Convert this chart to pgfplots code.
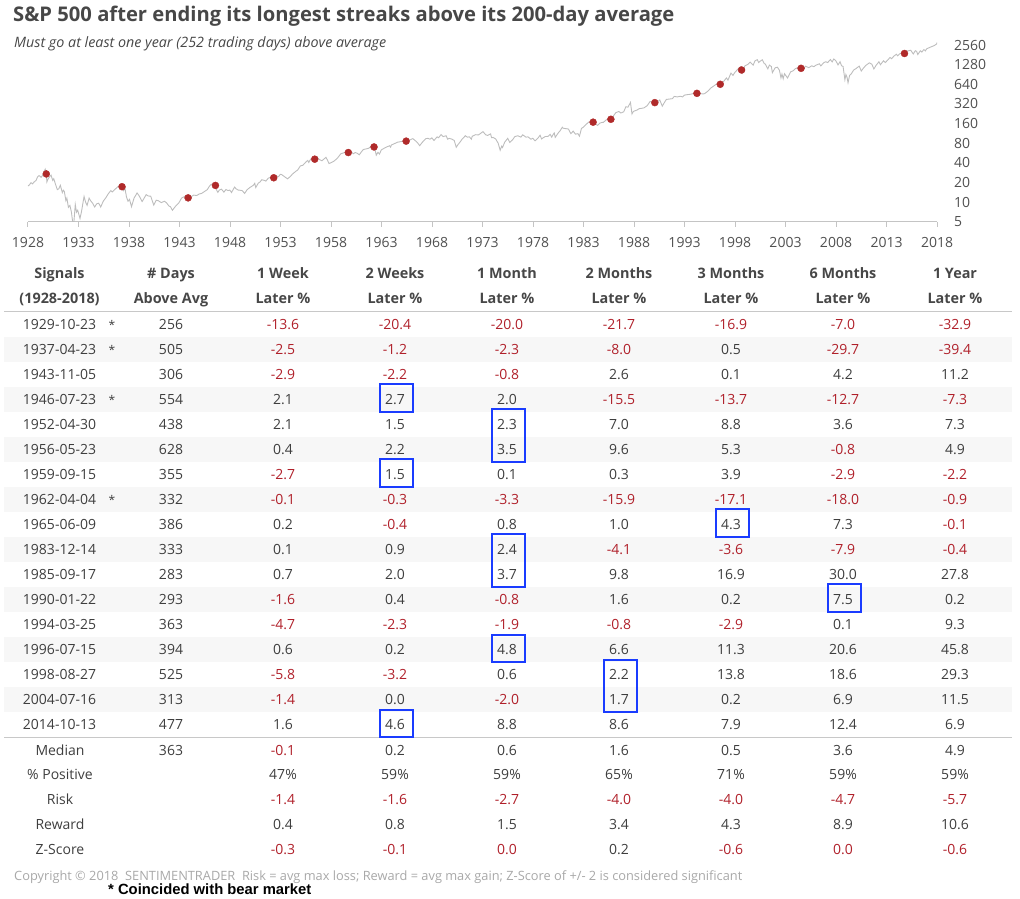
\documentclass[border=0pt]{standalone}
\usepackage{pgfplots}
\pgfplotsset{compat=1.18}
\usepackage{fontspec}
\setmainfont{Open Sans}
\newfontfamily\arialfont{Liberation Sans}
\definecolor{txt}{HTML}{3E3E3E}
\definecolor{hdr}{HTML}{474747}
\definecolor{neg}{HTML}{B0202A}
\definecolor{bluebox}{HTML}{1A3CFF}
\definecolor{band}{HTML}{F7F7F7}
\definecolor{rulec}{HTML}{C8C8C8}
\definecolor{linec}{HTML}{BDBDBD}
\definecolor{dotc}{HTML}{B02A2A}
\definecolor{copyc}{HTML}{A8A8A8}
\definecolor{lbl}{HTML}{505050}
\definecolor{axc}{HTML}{C4C4C4}
\def\cellvalaux#1#2\relax{\ifx-#1\textcolor{neg}{#1#2}\else\ifx z#1\textcolor{neg}{#2}\else#1#2\fi\fi}
\def\cellval#1{\expandafter\cellvalaux#1\relax}
\newcommand\bbox[3]{\draw[bluebox, line width=2pt] ({#1+1-16.5},{-(311.5+25.04*#2-2.5)}) rectangle ({#1+1+16.5},{-(311.5+25.04*(#3+1))});}
\begin{document}
\begin{tikzpicture}
\path[use as bounding box] (0,0) rectangle (1020pt,-898pt);
\begin{axis}[
  at={(28pt,-221.7pt)}, anchor=south west,
  scale only axis, width=909pt, height=183pt,
  xmin=1928, xmax=2018, ymode=log, ymin=5, ymax=3200,
  axis x line=bottom, axis y line=right,
  axis line style={-},
  x axis line style={draw=axc, line width=1.2pt},
  y axis line style={draw=none},
  xtick={1928,1933,...,2018},
  xticklabels={1928,1933,1938,1943,1948,1953,1958,1963,1968,1973,1978,1983,1988,1993,1998,2003,2008,2013,2018},
  ytick={5,10,20,40,80,160,320,640,1280,2560},
  yticklabels={5,10,20,40,80,160,320,640,1280,2560},
  x tick style={draw=axc, line width=1pt},
  y tick style={draw=none},
  minor tick num=0,
  major tick length=5pt, tick align=outside,
  tick label style={font=\fontsize{14}{16}\selectfont, text=lbl},
  yticklabel style={anchor=west, inner sep=0pt, xshift=12pt},
  xticklabel style={yshift=-7pt},
]
\addplot[color=linec, line width=0.9pt] table {
1928.00 17.6
1928.15 18.5
1928.30 19.8
1928.45 19.0
1928.60 20.3
1928.80 21.5
1928.95 24.4
1929.10 25.5
1929.30 24.0
1929.45 25.8
1929.60 29.5
1929.70 31.9
1929.76 29.5
1929.81 27.0
1929.87 20.4
1929.95 22.0
1930.10 24.0
1930.28 25.9
1930.45 21.5
1930.55 22.8
1930.75 18.2
1930.90 15.5
1931.05 16.0
1931.20 18.1
1931.40 14.0
1931.50 15.2
1931.60 14.5
1931.75 10.5
1931.85 11.5
1932.00 8.3
1932.15 8.9
1932.30 7.0
1932.45 4.6
1932.52 4.4
1932.68 9.2
1932.80 7.0
1932.92 7.5
1933.15 5.6
1933.30 7.2
1933.55 12.2
1933.70 10.0
1933.85 8.9
1934.05 11.5
1934.20 10.5
1934.40 9.6
1934.60 8.4
1934.80 9.4
1935.00 9.6
1935.20 8.4
1935.45 10.3
1935.70 11.6
1935.95 13.4
1936.20 15.0
1936.35 14.3
1936.60 15.6
1936.85 17.0
1937.05 17.8
1937.18 18.7
1937.31 17.2
1937.45 15.0
1937.60 16.3
1937.75 12.0
1937.90 10.3
1938.05 11.0
1938.25 8.5
1938.50 11.5
1938.80 13.8
1939.00 12.5
1939.30 10.2
1939.50 11.5
1939.70 13.0
1939.90 12.4
1940.15 12.3
1940.45 9.0
1940.70 10.7
1940.90 10.5
1941.20 9.8
1941.50 10.3
1941.70 9.8
1941.95 8.7
1942.10 8.5
1942.30 7.5
1942.60 8.6
1942.95 9.8
1943.20 11.5
1943.55 12.3
1943.70 11.3
1943.85 11.6
1944.10 11.9
1944.40 12.8
1944.70 12.6
1944.95 13.3
1945.20 13.6
1945.50 14.6
1945.75 15.5
1945.95 17.4
1946.10 18.5
1946.35 19.2
1946.50 18.5
1946.56 18.0
1946.70 15.0
1946.80 14.1
1946.95 15.3
1947.15 15.8
1947.40 14.2
1947.60 15.6
1947.80 15.0
1947.98 15.3
1948.15 14.0
1948.45 17.0
1948.60 16.0
1948.80 15.3
1948.98 15.2
1949.20 15.0
1949.45 13.6
1949.70 15.5
1949.98 16.8
1950.30 18.0
1950.45 19.4
1950.55 16.7
1950.80 19.5
1950.98 20.4
1951.15 22.0
1951.40 21.5
1951.55 21.0
1951.80 23.3
1951.98 23.8
1952.15 24.0
1952.33 23.6
1952.60 25.0
1952.80 24.5
1952.98 26.6
1953.10 26.5
1953.40 24.5
1953.70 22.7
1953.98 24.8
1954.20 27.0
1954.50 29.5
1954.70 31.0
1954.98 36.0
1955.20 36.5
1955.50 41.0
1955.70 43.5
1955.80 40.5
1955.98 45.5
1956.20 48.0
1956.39 45.5
1956.60 49.5
1956.70 47.0
1956.85 45.0
1957.10 43.0
1957.50 48.5
1957.65 44.0
1957.80 39.0
1957.98 40.0
1958.30 42.5
1958.60 46.5
1958.98 55.2
1959.20 56.5
1959.40 58.0
1959.60 60.5
1959.71 57.5
1959.85 57.0
1959.98 59.9
1960.20 55.0
1960.40 57.5
1960.60 56.0
1960.80 53.0
1960.98 58.1
1961.20 64.0
1961.50 65.5
1961.75 67.0
1961.95 71.6
1962.10 70.0
1962.26 70.0
1962.40 60.0
1962.48 52.3
1962.65 58.0
1962.80 54.5
1962.98 63.1
1963.20 66.0
1963.50 70.0
1963.80 73.0
1963.90 69.6
1963.98 75.0
1964.30 79.0
1964.60 83.0
1964.98 84.8
1965.20 87.0
1965.35 89.5
1965.44 86.0
1965.48 82.0
1965.70 88.0
1965.98 92.4
1966.10 94.0
1966.40 86.0
1966.60 80.0
1966.78 73.2
1966.98 80.3
1967.20 88.0
1967.40 94.0
1967.60 95.0
1967.80 92.0
1967.98 96.5
1968.20 88.0
1968.50 100.0
1968.65 97.0
1968.90 108.4
1969.10 101.0
1969.40 104.0
1969.55 92.0
1969.70 95.0
1969.98 92.1
1970.20 88.0
1970.40 69.3
1970.60 77.0
1970.80 84.0
1970.98 92.2
1971.30 104.0
1971.50 99.0
1971.70 100.0
1971.90 92.0
1971.98 102.1
1972.30 108.0
1972.60 107.0
1972.98 118.1
1973.05 120.2
1973.30 108.0
1973.50 105.0
1973.80 111.0
1973.90 97.0
1974.05 98.0
1974.30 93.0
1974.55 80.0
1974.75 62.3
1974.90 72.0
1974.98 68.6
1975.20 83.0
1975.50 95.0
1975.70 82.0
1975.98 90.2
1976.20 101.0
1976.50 104.0
1976.80 99.0
1976.98 107.5
1977.30 99.0
1977.50 100.0
1977.80 92.0
1977.98 95.1
1978.20 86.9
1978.50 96.0
1978.70 106.0
1978.85 93.0
1978.98 96.1
1979.20 101.0
1979.50 102.0
1979.70 109.0
1979.85 99.0
1979.98 107.9
1980.10 115.0
1980.20 98.2
1980.50 115.0
1980.70 125.0
1980.90 140.5
1980.98 135.8
1981.20 134.0
1981.50 132.0
1981.75 112.0
1981.98 122.5
1982.20 110.0
1982.45 112.0
1982.60 102.4
1982.80 135.0
1982.98 140.6
1983.20 152.0
1983.50 168.0
1983.80 172.0
1983.95 168.0
1984.10 160.0
1984.40 150.0
1984.60 162.0
1984.80 166.0
1984.98 167.2
1985.20 180.0
1985.50 191.0
1985.71 186.0
1985.80 188.0
1985.98 211.3
1986.20 235.0
1986.50 245.0
1986.70 232.0
1986.98 242.2
1987.20 290.0
1987.40 285.0
1987.65 336.8
1987.80 224.8
1987.90 240.0
1987.98 247.1
1988.30 258.0
1988.50 270.0
1988.80 275.0
1988.98 277.7
1989.30 300.0
1989.60 350.0
1989.80 340.0
1989.98 353.4
1990.06 335.0
1990.30 340.0
1990.55 368.0
1990.80 295.5
1990.98 330.2
1991.20 375.0
1991.50 380.0
1991.80 385.0
1991.98 417.1
1992.30 410.0
1992.60 420.0
1992.80 410.0
1992.98 435.7
1993.30 445.0
1993.60 450.0
1993.98 466.5
1994.10 482.0
1994.23 465.0
1994.30 440.0
1994.60 460.0
1994.85 455.0
1994.98 459.3
1995.30 500.0
1995.60 560.0
1995.98 615.9
1996.20 650.0
1996.40 670.0
1996.54 640.0
1996.70 660.0
1996.98 740.7
1997.15 800.0
1997.30 740.0
1997.60 950.0
1997.80 876.0
1997.98 970.4
1998.30 1100.0
1998.55 1186.0
1998.65 1060.0
1998.75 957.0
1998.90 1150.0
1998.98 1229.2
1999.30 1300.0
1999.50 1400.0
1999.80 1260.0
1999.98 1469.3
2000.20 1527.0
2000.35 1380.0
2000.50 1450.0
2000.70 1520.0
2000.90 1320.0
2000.98 1320.3
2001.25 1103.0
2001.40 1260.0
2001.60 1200.0
2001.70 965.8
2001.98 1148.1
2002.20 1170.0
2002.40 1050.0
2002.55 800.0
2002.65 920.0
2002.77 776.8
2002.90 930.0
2003.20 800.0
2003.50 990.0
2003.75 1030.0
2003.98 1111.9
2004.20 1150.0
2004.40 1120.0
2004.54 1125.0
2004.62 1065.0
2004.80 1110.0
2004.98 1211.9
2005.30 1150.0
2005.60 1230.0
2005.80 1190.0
2005.98 1248.3
2006.35 1320.0
2006.50 1225.0
2006.80 1380.0
2006.98 1418.3
2007.17 1380.0
2007.45 1530.0
2007.62 1410.0
2007.78 1565.2
2007.98 1468.4
2008.20 1270.0
2008.40 1420.0
2008.55 1230.0
2008.70 1200.0
2008.88 752.0
2008.98 903.3
2009.10 810.0
2009.19 676.5
2009.35 880.0
2009.50 920.0
2009.75 1060.0
2009.98 1115.1
2010.30 1217.0
2010.50 1022.0
2010.75 1150.0
2010.98 1257.6
2011.30 1363.0
2011.55 1300.0
2011.75 1099.0
2011.98 1257.6
2012.25 1419.0
2012.40 1278.0
2012.70 1465.0
2012.88 1380.0
2012.98 1426.2
2013.35 1650.0
2013.50 1580.0
2013.75 1740.0
2013.98 1848.4
2014.10 1750.0
2014.30 1870.0
2014.60 1990.0
2014.78 1900.0
2014.98 2058.9
2015.40 2130.0
2015.65 1867.0
2015.85 2090.0
2015.98 2043.9
2016.10 1829.0
2016.35 2090.0
2016.50 2000.0
2016.70 2180.0
2016.85 2085.0
2016.98 2238.8
2017.30 2360.0
2017.50 2430.0
2017.75 2520.0
2017.98 2673.6
2018.00 2800.0
};
\addplot[only marks, mark=*, mark size=3.5pt, color=dotc] table {
1929.81 27.0
1937.31 17.2
1943.85 11.6
1946.56 18.0
1952.33 23.6
1956.39 45.5
1959.71 57.5
1962.26 70.0
1965.44 86.0
1983.95 168.0
1985.71 186.0
1990.06 335.0
1994.23 465.0
1996.54 640.0
1998.65 1060.0
2004.54 1125.0
2014.78 1900.0
};
\end{axis}
\begin{scope}[x=1pt, y=1pt, every node/.style={inner sep=0pt, text=txt, font=\fontsize{14}{16}\selectfont}]
\node[anchor=base west, text=hdr, font=\fontsize{20.2}{23}\selectfont\bfseries] at (13,-21) {S\&P 500 after ending its longest streaks above its 200-day average};
\node[anchor=base west, text=hdr, font=\fontsize{14.3}{17}\selectfont\itshape] at (14,-47) {Must go at least one year (252 trading days) above average};
% bands
\foreach \i in {1,3,5,7,9,11,13,15}{
  \fill[band] (4,{-(311.5+25.04*\i)}) rectangle (1012,{-(311.5+25.04*(\i+1))});
}
\draw[rulec, line width=1.3pt] (4,-311.5) -- (1012,-311.5);
\draw[rulec, line width=1.3pt] (4,-737.2) -- (1012,-737.2);
% header
\foreach \x/\a/\b in {59.5/Signals/(1928-2018), 171/\# Days/Above Avg, 283/1 Week/Later \%, 395/2 Weeks/Later \%, 507/1 Month/Later \%, 619/2 Months/Later \%, 731/3 Months/Later \%, 843/6 Months/Later \%, 955/1 Year/Later \%}{
  \node[anchor=base, text=hdr, font=\fontsize{14.4}{16}\selectfont\bfseries] at (\x,-278.3) {\a};
  \node[anchor=base, text=hdr, font=\fontsize{14.4}{16}\selectfont\bfseries] at (\x,-303.3) {\b};
}
% rows
\foreach \d/\s/\n/\va/\vb/\vc/\vd/\ve/\vf/\vg [count=\i from 0] in {
1929-10-23/*/256/-13.6/-20.4/-20.0/-21.7/-16.9/-7.0/-32.9,
1937-04-23/*/505/-2.5/-1.2/-2.3/-8.0/0.5/-29.7/-39.4,
1943-11-05//306/-2.9/-2.2/-0.8/2.6/0.1/4.2/11.2,
1946-07-23/*/554/2.1/2.7/2.0/-15.5/-13.7/-12.7/-7.3,
1952-04-30//438/2.1/1.5/2.3/7.0/8.8/3.6/7.3,
1956-05-23//628/0.4/2.2/3.5/9.6/5.3/-0.8/4.9,
1959-09-15//355/-2.7/1.5/0.1/0.3/3.9/-2.9/-2.2,
1962-04-04/*/332/-0.1/-0.3/-3.3/-15.9/-17.1/-18.0/-0.9,
1965-06-09//386/0.2/-0.4/0.8/1.0/4.3/7.3/-0.1,
1983-12-14//333/0.1/0.9/2.4/-4.1/-3.6/-7.9/-0.4,
1985-09-17//283/0.7/2.0/3.7/9.8/16.9/30.0/27.8,
1990-01-22//293/-1.6/0.4/-0.8/1.6/0.2/7.5/0.2,
1994-03-25//363/-4.7/-2.3/-1.9/-0.8/-2.9/0.1/9.3,
1996-07-15//394/0.6/0.2/4.8/6.6/11.3/20.6/45.8,
1998-08-27//525/-5.8/-3.2/0.6/2.2/13.8/18.6/29.3,
2004-07-16//313/-1.4/0.0/-2.0/1.7/0.2/6.9/11.5,
2014-10-13//477/1.6/4.6/8.8/8.6/7.9/12.4/6.9}{
  \pgfmathsetmacro\yb{-(324+25.04*\i+5)}
  \node[anchor=base] at (59.5,\yb) {\d};
  \node[anchor=base, font=\fontsize{12}{14}\selectfont] at (112,\yb) {\s};
  \node[anchor=base] at (171,\yb) {\n};
  \node[anchor=base] at (283,\yb) {\cellval\va};
  \node[anchor=base] at (395,\yb) {\cellval\vb};
  \node[anchor=base] at (507,\yb) {\cellval\vc};
  \node[anchor=base] at (619,\yb) {\cellval\vd};
  \node[anchor=base] at (731,\yb) {\cellval\ve};
  \node[anchor=base] at (843,\yb) {\cellval\vf};
  \node[anchor=base] at (955,\yb) {\cellval\vg};
}
% summary
\foreach \l/\n/\va/\vb/\vc/\vd/\ve/\vf/\vg [count=\k from 0] in {
Median/363/-0.1/0.2/0.6/1.6/0.5/3.6/4.9,
\% Positive//47\%/59\%/59\%/65\%/71\%/59\%/59\%,
Risk//-1.4/-1.6/-2.7/-4.0/-4.0/-4.7/-5.7,
Reward//0.4/0.8/1.5/3.4/4.3/8.9/10.6,
Z-Score//-0.3/-0.1/z0.0/0.2/-0.6/z0.0/-0.6}{
  \pgfmathsetmacro\yb{-(750+24.83*\k+5)}
  \node[anchor=base] at (60,\yb) {\l};
  \node[anchor=base] at (171,\yb) {\n};
  \node[anchor=base] at (283,\yb) {\cellval\va};
  \node[anchor=base] at (395,\yb) {\cellval\vb};
  \node[anchor=base] at (507,\yb) {\cellval\vc};
  \node[anchor=base] at (619,\yb) {\cellval\vd};
  \node[anchor=base] at (731,\yb) {\cellval\ve};
  \node[anchor=base] at (843,\yb) {\cellval\vf};
  \node[anchor=base] at (955,\yb) {\cellval\vg};
}
% boxes
\bbox{395}{3}{3}
\bbox{395}{6}{6}
\bbox{507}{4}{5}
\bbox{731}{8}{8}
\bbox{507}{9}{10}
\bbox{843}{11}{11}
\bbox{507}{13}{13}
\bbox{619}{14}{15}
\bbox{395}{16}{16}
\node[anchor=base west, text=copyc, font=\fontsize{12.8}{15}\selectfont] at (14,-880) {Copyright © 2018\ \ SENTIMENTRADER\ \ Risk = avg max loss; Reward = avg max gain; Z-Score of +/- 2 is considered significant};
\node[anchor=base west, text=black, font=\arialfont\fontsize{14.8}{17}\selectfont\bfseries] at (108,-894) {* Coincided with bear market};
\end{scope}
\end{tikzpicture}
\end{document}
